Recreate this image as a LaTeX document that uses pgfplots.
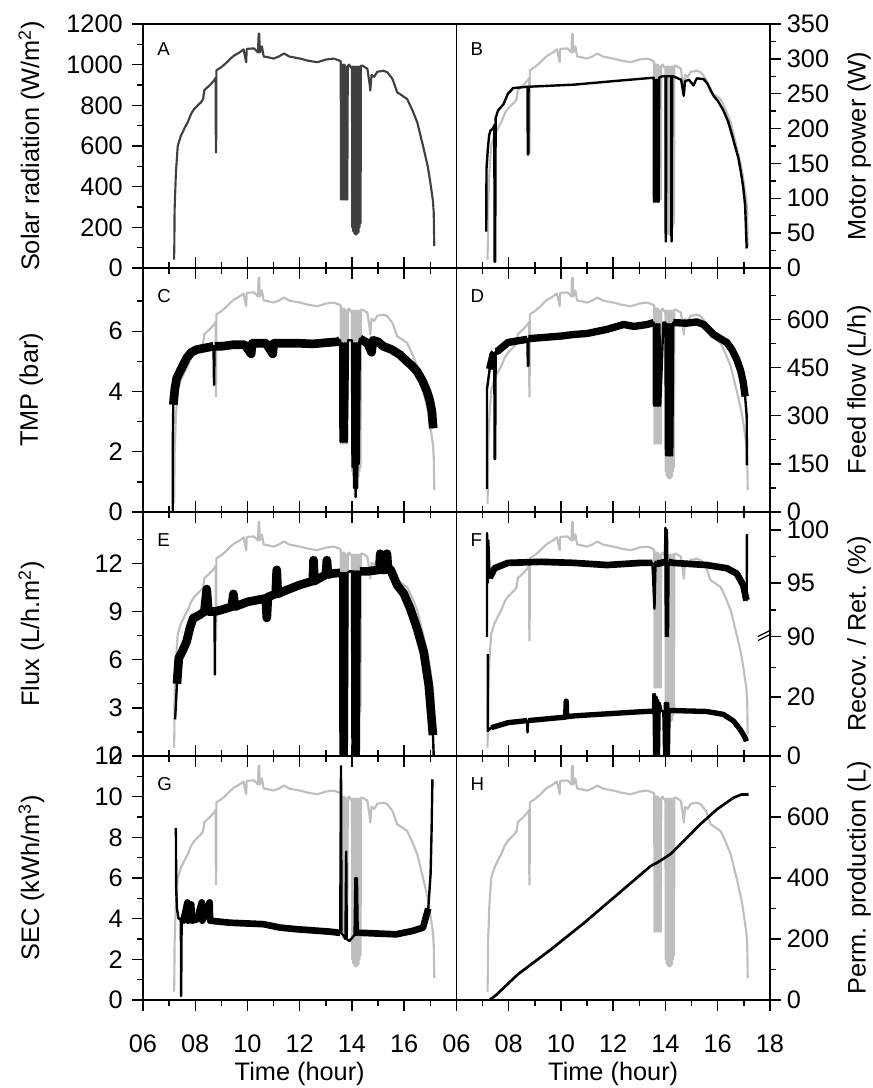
\documentclass[border=0pt]{standalone}
\usepackage{pgfplots}
\pgfplotsset{compat=1.18}
\usepackage{pgfplotstable}
\usepackage{fontspec}
\setmainfont{Liberation Sans}
\definecolor{solargray}{HTML}{BEBEBE}
\definecolor{solardark}{HTML}{404040}

% solar radiation (W/m2), also drawn in grey behind panels B-H
\pgfplotstableread{
h v
7.19 41
7.20 120
7.21 288
7.26 469
7.33 600
7.45 650
7.60 690
7.71 716
7.85 760
7.96 782
8.10 800
8.22 815
8.30 830
8.35 875
8.47 889
8.60 905
8.72 922
8.78 935
8.79 568
8.80 568
8.81 972
9.00 988
9.20 1010
9.35 1030
9.49 1045
9.70 1060
9.85 1075
9.95 1012
9.97 1075
10.00 1078
10.25 1080
10.40 1060
10.43 1152
10.45 1152
10.47 1060
10.55 1090
10.62 1040
10.76 1037
11.00 1030
11.20 1040
11.40 1055
11.60 1040
11.80 1035
12.04 1029
12.30 1020
12.67 1012
13.00 1025
13.30 1030
13.50 1021
13.57 1015
13.58 337
13.60 1000
13.62 337
13.64 1000
13.66 337
13.68 1000
13.70 337
13.72 1000
13.74 337
13.76 990
13.78 337
13.80 990
13.82 337
13.84 995
13.90 1000
13.96 985
14.00 990
14.01 200
14.03 990
14.05 180
14.07 990
14.09 170
14.11 990
14.13 165
14.15 990
14.17 165
14.19 990
14.21 170
14.23 990
14.25 175
14.27 990
14.29 200
14.31 990
14.33 220
14.34 995
14.40 995
14.59 980
14.68 900
14.70 873
14.75 950
14.85 940
14.97 965
15.20 970
15.35 963
15.55 930
15.73 864
15.90 850
16.11 831
16.30 780
16.50 716
16.75 584
16.90 500
17.00 420
17.10 330
17.13 272
17.15 107
}\solar

% motor power (W)
\pgfplotstableread{
h v
7.14 52
7.15 143
7.20 170
7.25 190
7.30 197
7.40 200
7.45 205
7.46 9
7.48 9
7.50 215
7.59 226
7.80 235
7.97 250
8.10 255
8.16 258
8.72 260
8.73 163
8.75 163
8.76 260
10.50 263
12.00 268
13.55 273
13.56 95
13.59 270
13.62 95
13.65 270
13.68 95
13.71 270
13.74 95
13.76 273
13.87 275
14.00 275
14.01 38
14.02 38
14.03 275
14.22 275
14.23 38
14.24 38
14.26 275
14.30 275
14.60 270
14.70 247
14.75 268
14.90 270
15.07 262
15.20 272
15.46 271
15.60 265
15.84 247
16.00 240
16.22 226
16.40 210
16.54 192
16.70 170
16.79 158
16.90 135
16.98 115
17.05 90
17.11 28
}\motor

% TMP (bar)
\pgfplotstableread{
h v
7.14 0
7.14 2.23
7.16 3.56
7.22 4.10
7.29 4.44
7.48 4.78
7.67 5.11
7.85 5.30
8.05 5.39
8.40 5.45
8.70 5.50
8.72 4.22
8.74 5.50
9.00 5.50
9.43 5.55
9.90 5.55
10.14 5.25
10.18 5.60
10.70 5.60
10.97 5.25
11.00 5.60
11.50 5.60
12.00 5.60
12.50 5.58
13.00 5.62
13.45 5.65
13.55 5.70
13.56 2.33
13.59 5.6
13.62 2.33
13.65 5.6
13.68 2.33
13.71 5.6
13.74 2.33
13.77 5.6
13.80 2.33
13.85 5.70
14.00 5.70
14.02 1.5
14.05 5.6
14.08 0.8
14.11 5.6
14.14 0.5
14.17 5.6
14.20 0.8
14.23 5.6
14.26 1.6
14.30 5.75
14.60 5.60
14.75 5.30
14.80 5.70
15.00 5.65
15.20 5.50
15.50 5.40
15.84 5.22
16.10 5.00
16.30 4.85
16.49 4.67
16.70 4.35
16.87 4.00
16.98 3.70
17.06 3.33
17.11 2.78
}\tmp

% feed flow (L/h)
\pgfplotstableread{
h v
7.17 72
7.17 383
7.27 445
7.40 491
7.45 495
7.46 165
7.48 165
7.50 500
7.59 502
7.97 528
8.48 535
8.72 538
8.73 455
8.75 455
8.76 540
9.24 543
10.00 548
10.50 553
11.00 556
11.77 569
12.40 584
12.80 578
13.30 584
13.55 590
13.56 331
13.59 585
13.62 331
13.65 585
13.68 331
13.71 585
13.74 331
13.77 585
13.80 331
13.92 590
14.00 590
14.02 176
14.05 585
14.08 176
14.11 585
14.14 176
14.17 585
14.20 176
14.23 585
14.26 176
14.30 590
14.80 588
15.20 592
15.46 584
15.84 553
16.10 540
16.35 528
16.55 505
16.73 475
16.88 440
16.98 403
17.05 360
17.11 300
17.12 145
}\feed

% flux (L/h.m2)
\pgfplotstableread{
h v
7.23 2.28
7.30 4.50
7.37 6.10
7.50 6.50
7.67 7.13
7.80 8.00
7.92 8.58
8.17 8.79
8.35 9.00
8.44 10.40
8.50 9.00
8.68 9.00
8.74 9.00
8.75 5.07
8.76 9.00
9.00 9.10
9.40 9.30
9.46 10.10
9.52 9.30
10.00 9.60
10.70 9.82
10.74 8.60
10.78 9.90
11.08 10.10
11.12 11.60
11.16 10.10
11.35 10.24
11.99 10.65
12.50 10.90
12.53 12.20
12.56 10.90
13.00 11.30
13.04 12.20
13.08 11.30
13.26 11.37
13.50 11.40
13.55 11.40
13.56 0
13.59 11.4
13.62 0
13.65 11.4
13.68 0
13.71 11.4
13.74 0
13.77 11.4
13.80 0
13.83 11.4
13.90 11.50
14.00 11.50
14.02 0
14.05 11.5
14.08 0
14.11 11.5
14.14 0
14.17 11.5
14.20 0
14.23 11.5
14.26 0
14.30 11.50
14.60 11.50
15.05 11.60
15.08 12.60
15.11 11.60
15.30 11.60
15.34 12.60
15.38 11.60
15.48 11.60
15.73 10.65
15.99 10.10
16.24 9.15
16.50 7.90
16.75 6.45
16.94 4.40
17.10 1.30
17.13 0
}\flux

% retention (%), upper part of F
\pgfplotstableread{
h v
7.17 88
7.17 99.7
7.19 95.0
7.22 99.0
7.27 95.5
7.46 96.4
7.97 96.9
9.24 97.0
10.50 96.9
11.77 96.7
13.05 96.9
13.50 96.9
13.58 92.6
13.62 97.0
13.70 96.8
13.98 97.0
14.00 100.2
14.02 85
14.06 100.0
14.08 85
14.12 97.0
14.30 96.9
15.57 96.7
16.35 96.4
16.73 95.9
16.98 94.8
17.08 93.6
17.11 93.4
17.12 99.6
}\reten

% recovery (%), lower part of F
\pgfplotstableread{
h v
7.20 34.5
7.20 8.5
7.33 9.6
7.97 11.3
8.70 12.0
8.72 8.0
8.74 12.0
9.24 12.4
10.18 13.2
10.20 18.6
10.22 13.3
10.50 13.6
11.77 14.3
13.05 15.0
13.52 15.2
13.54 21
13.57 0
13.60 21
13.63 0
13.66 20
13.69 0
13.72 19
13.75 0
13.78 18
13.85 15.3
13.92 15.0
13.95 0
13.98 18
14.01 0
14.04 18
14.07 0
14.10 18
14.13 0
14.16 16
14.20 15.4
14.30 15.4
15.57 15.1
16.22 14.1
16.60 11.9
16.86 9.0
17.05 6.2
17.10 5.0
}\recov

% SEC (kWh/m3)
\pgfplotstableread{
h v
7.26 8.47
7.27 5.50
7.30 4.50
7.36 4.00
7.45 4.00
7.46 0.20
7.48 4.00
7.55 3.90
7.70 4.80
7.72 3.90
7.85 4.70
7.87 3.90
8.07 3.97
8.25 4.80
8.27 3.90
8.55 4.80
8.57 3.90
9.33 3.80
10.61 3.73
11.25 3.56
11.89 3.48
13.17 3.36
13.55 3.30
13.58 11.50
13.60 3.30
13.75 3.00
13.78 7.30
13.80 3.00
13.90 2.90
14.10 3.20
14.13 6.00
14.16 3.20
14.19 6.00
14.22 3.20
14.25 3.30
14.40 3.30
15.69 3.23
16.33 3.40
16.72 3.56
16.92 4.50
17.01 6.20
17.05 8.50
17.08 10.85
}\sec

% permeate production (L)
\pgfplotstableread{
h v
7.27 0
7.50 15
8.35 84
9.62 166
10.89 253
12.16 346
13.43 439
13.68 450
14.19 478
14.70 521
15.33 576
15.97 625
16.60 663
16.92 674
17.18 674
}\perm

\pgfplotsset{
  panel/.style={scale only axis, width=235.1pt, height=183pt,
    anchor=south west, clip mode=individual,
    /pgf/number format/assume math mode=true,
    xmin=6, xmax=18, xtick={6,8,...,18}, minor xtick={7,9,...,17},
    xticklabels={}, tick align=outside,
    major tick length=8pt, minor tick length=4.5pt,
    axis line style={line width=1.2pt},
    every tick/.style={black, line width=1.1pt},
    xticklabel style={font=\fontsize{19}{21}\selectfont, anchor=north, inner sep=0pt, yshift=-18pt},
    label style={font=\fontsize{19}{21}\selectfont}},
  bg/.style={scale only axis, width=235.1pt, height=183pt,
    anchor=south west, xmin=6, xmax=18, ymin=0, ymax=1200, hide axis},
  leftlab/.style={ytick pos=left,
    yticklabel style={font=\fontsize{19}{21}\selectfont, anchor=east, inner sep=0pt, xshift=-7pt},
    ylabel style={at={(axis description cs:-0.356,0.5)}, anchor=center}},
  rightlab/.style={ytick pos=right, yticklabel pos=right,
    yticklabel style={font=\fontsize{19}{21}\selectfont, anchor=west, inner sep=0pt, xshift=4.5pt},
    ylabel style={at={(axis description cs:1.284,0.5)}, anchor=center}},
  botlab/.style={xlabel={Time (hour)},
    xlabel style={at={(axis description cs:0.5,-0.305)}, anchor=center}},
}
\tikzset{
  gry/.style={solargray, line width=1.6pt, line join=round},
  blk/.style={black, line width=1.8pt, line join=round},
  band/.style={black, line width=#1, line join=round},
  letter/.style={anchor=north west, inner sep=0pt, font=\fontsize{14}{14}\selectfont},
}

\begin{document}
\begin{tikzpicture}

% ---- A
\begin{axis}[panel, leftlab, at={(0pt,549pt)}, xtick pos=bottom,
  ymin=0, ymax=1200, ytick={0,200,...,1200}, minor ytick={100,300,...,1100},
  yticklabels={0,200,400,600,800,1000,1200},
  ylabel={Solar radiation (W/m\textsuperscript{2})}]
\addplot[solardark, line width=1.6pt, line join=round] table {\solar};
\node[letter] at ([xshift=10.5pt,yshift=-14pt]rel axis cs:0,1) {A};
\end{axis}

% ---- B
\begin{axis}[bg, at={(235.1pt,549pt)}]
\addplot[gry] table {\solar};
\end{axis}
\begin{axis}[panel, rightlab, at={(235.1pt,549pt)}, xtick pos=bottom,
  ymin=0, ymax=350, ytick={0,50,...,350}, minor ytick={25,75,...,325},
  yticklabels={0,50,100,150,200,250,300,350},
  ylabel={Motor power (W)}]
\addplot[blk] table {\motor};
\node[letter] at ([xshift=10.5pt,yshift=-14pt]rel axis cs:0,1) {B};
\end{axis}

% ---- C
\begin{axis}[bg, at={(0pt,366pt)}]
\addplot[gry] table {\solar};
\end{axis}
\begin{axis}[panel, leftlab, at={(0pt,366pt)}, xtick pos=both,
  ymin=0, ymax=8.1, ytick={0,2,4,6}, minor ytick={1,3,5,7},
  yticklabels={0,2,4,6}, ylabel={TMP (bar)}]
\addplot[blk] table {\tmp};
\addplot[band=6.5pt, restrict x to domain=7.16:8.70] table {\tmp};
\addplot[band=6.5pt, restrict x to domain=8.74:13.55] table {\tmp};
\addplot[band=6.5pt, restrict x to domain=14.30:17.11] table {\tmp};
\node[letter] at ([xshift=10.5pt,yshift=-16pt]rel axis cs:0,1) {C};
\end{axis}

% ---- D
\begin{axis}[bg, at={(235.1pt,366pt)}]
\addplot[gry] table {\solar};
\end{axis}
\begin{axis}[panel, rightlab, at={(235.1pt,366pt)}, xtick pos=both,
  ymin=0, ymax=760, ytick={0,150,...,600}, minor ytick={75,225,...,675},
  yticklabels={0,150,300,450,600}, ylabel={Feed flow (L/h)}]
\addplot[blk] table {\feed};
\addplot[band=5.5pt, restrict x to domain=7.27:7.45] table {\feed};
\addplot[band=5.5pt, restrict x to domain=7.50:8.72] table {\feed};
\addplot[band=5.5pt, restrict x to domain=8.76:13.55] table {\feed};
\addplot[band=5.5pt, restrict x to domain=14.30:17.05] table {\feed};
\node[letter] at ([xshift=10.5pt,yshift=-16pt]rel axis cs:0,1) {D};
\end{axis}

% ---- E
\begin{axis}[bg, at={(0pt,183pt)}]
\addplot[gry] table {\solar};
\end{axis}
\begin{axis}[panel, leftlab, at={(0pt,183pt)}, xtick pos=both,
  ymin=0, ymax=15.2, ytick={0,3,...,12}, minor ytick={1.5,4.5,...,13.5},
  yticklabels={0,3,6,9,12}, ylabel={Flux (L/h.m\textsuperscript{2})}]
\addplot[blk] table {\flux};
\addplot[band=6.5pt, restrict x to domain=7.30:8.74] table {\flux};
\addplot[band=6.5pt, restrict x to domain=8.76:13.55] table {\flux};
\addplot[band=6.5pt, restrict x to domain=14.30:17.10] table {\flux};
\node[letter] at ([xshift=10.5pt,yshift=-16pt]rel axis cs:0,1) {E};
\end{axis}

% ---- F (broken axis: 0-40 below, 90-101.7 above)
\begin{axis}[bg, at={(235.1pt,183pt)}]
\addplot[gry] table {\solar};
\end{axis}
\begin{axis}[panel, rightlab, at={(235.1pt,183pt)}, xtick pos=both,
  ymin=0, ymax=1, ytick=\empty, ylabel={Recov. / Ret. (\%)}]
\node[letter] at ([xshift=10.5pt,yshift=-16pt]rel axis cs:0,1) {F};
\end{axis}
\begin{axis}[panel, rightlab, at={(235.1pt,183pt)}, height=89.6pt,
  hide x axis, axis y line*=right,
  ymin=0, ymax=40.5, ytick={0,20}, minor ytick={10,30}, yticklabels={0,20}]
\addplot[blk] table {\recov};
\addplot[band=4pt, restrict x to domain=7.33:8.70] table {\recov};
\addplot[band=4pt, restrict x to domain=8.74:13.52] table {\recov};
\addplot[band=4pt, restrict x to domain=14.20:17.10] table {\recov};
\draw[line width=1pt] ([xshift=-9pt,yshift=-3pt]rel axis cs:1,1) -- ([xshift=1pt,yshift=2pt]rel axis cs:1,1);
\draw[line width=1pt] ([xshift=-9pt,yshift=0pt]rel axis cs:1,1) -- ([xshift=1pt,yshift=5pt]rel axis cs:1,1);
\end{axis}
\begin{axis}[panel, rightlab, at={(235.1pt,272.6pt)}, height=93.4pt,
  hide x axis, axis y line*=right,
  ymin=90, ymax=101.67, ytick={90,95,100}, minor ytick={92.5,97.5},
  yticklabels={90,95,100}]
\addplot[blk] table {\reten};
\addplot[band=5pt, restrict x to domain=7.27:13.50] table {\reten};
\addplot[band=5pt, restrict x to domain=13.62:13.98] table {\reten};
\addplot[band=5pt, restrict x to domain=14.12:17.11] table {\reten};
\end{axis}

% ---- G
\begin{axis}[bg, at={(0pt,0pt)}]
\addplot[gry] table {\solar};
\end{axis}
\begin{axis}[panel, leftlab, botlab, at={(0pt,0pt)}, xtick pos=both,
  xticklabels={06,08,10,12,14,16,},
  ymin=0, ymax=12, ytick={0,2,...,12}, minor ytick={1,3,...,11},
  yticklabels={0,2,4,6,8,10,12}, ylabel={SEC (kWh/m\textsuperscript{3})}]
\addplot[blk] table {\sec};
\addplot[band=5pt, restrict x to domain=7.48:13.55] table {\sec};
\addplot[band=5pt, restrict x to domain=14.25:16.92] table {\sec};
\node[letter] at ([xshift=10.5pt,yshift=-16pt]rel axis cs:0,1) {G};
\end{axis}

% ---- H
\begin{axis}[bg, at={(235.1pt,0pt)}]
\addplot[gry] table {\solar};
\end{axis}
\begin{axis}[panel, rightlab, botlab, at={(235.1pt,0pt)}, xtick pos=both,
  xticklabels={06,08,10,12,14,16,18},
  ymin=0, ymax=800, ytick={0,200,...,600}, minor ytick={100,300,...,700},
  yticklabels={0,200,400,600}, ylabel={Perm. production (L)}]
\addplot[blk, line width=2pt] table {\perm};
\node[letter] at ([xshift=10.5pt,yshift=-16pt]rel axis cs:0,1) {H};
\end{axis}

\pgfresetboundingbox
\path (-107.25pt,-66pt) rectangle (547.5pt,750pt);
\end{tikzpicture}
\end{document}
